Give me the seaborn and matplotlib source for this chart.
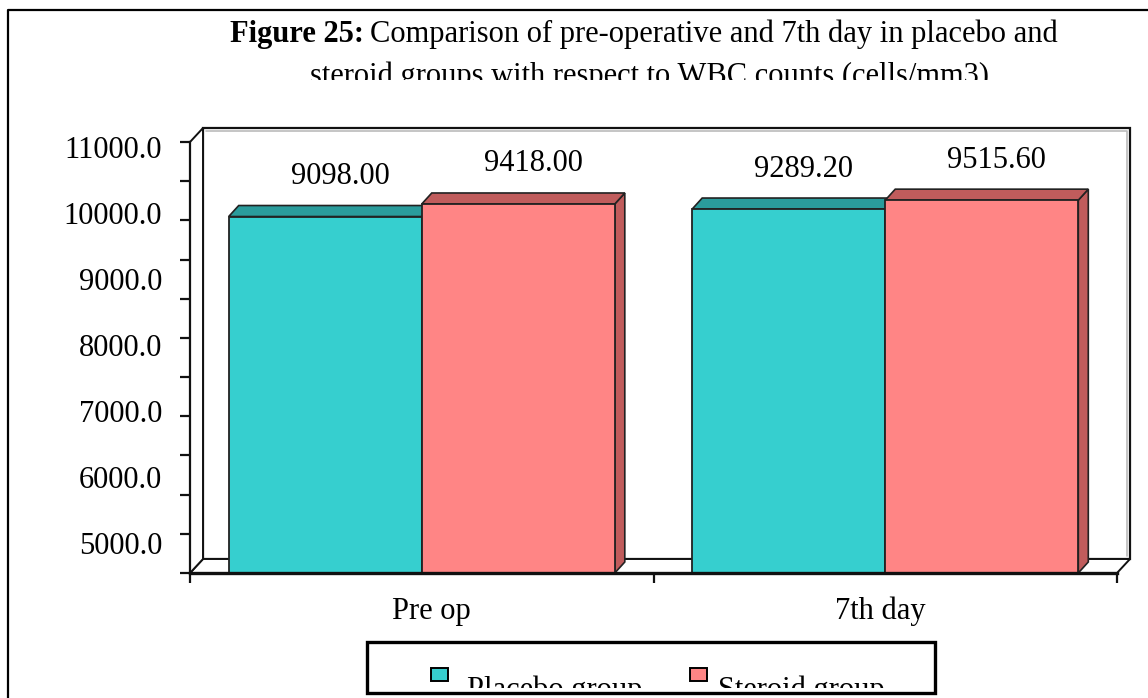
import numpy as np
import pandas as pd
import matplotlib
matplotlib.use("Agg")
import matplotlib.pyplot as plt
import seaborn as sns
from matplotlib.patches import Polygon, Rectangle
from matplotlib.lines import Line2D
from matplotlib.transforms import Bbox, IdentityTransform

# data
days = ["Pre op", "7th day"]
groups = ["Placebo group", "Steroid group"]
placebo = [9098.00, 9289.20]
steroid = [9418.00, 9515.60]
# the printed axis labels (the old Excel chart shows them out of step with the ticks)
axis_label_values = [5000, 6000, 7000, 8000, 9000, 10000, 11000]
axis_labels = ["5000.0", "6000.0", "7000.0", "8000.0", "9000.0", "10000.0", "11000.0"]

df = pd.DataFrame({
    "day": days * 2,
    "group": [groups[0]] * 2 + [groups[1]] * 2,
    "wbc": placebo + steroid,
})

teal = "#36CFCF"
red = "#FF8585"
teal_dark = "#2A9C9C"
red_dark = "#C05C5C"

sns.set_theme(style="white")
plt.rcParams["font.family"] = ["Liberation Serif", "DejaVu Serif"]
plt.rcParams["text.color"] = "black"

W, H = 1148, 698
fig = plt.figure(figsize=(W / 100, H / 100), dpi=100)


def fx(px):
    return px / W


def fy(py):
    return 1 - py / H


FS = 22
ax = fig.add_axes([fx(190), fy(573), fx(1117) - fx(190), fy(142) - fy(573)])
ax.patch.set_alpha(0)

sns.barplot(data=df, x="day", y="wbc", hue="group", palette=[teal, red],
            width=0.833, saturation=1, errorbar=None, edgecolor="#222222",
            linewidth=1.3, legend=False, ax=ax, zorder=3)

ax.set_xlim(-0.5, 1.5)
ax.set_ylim(0, 11000)
ax.set_xlabel("")
ax.set_ylabel("")

for s in ["top", "right"]:
    ax.spines[s].set_visible(False)
ax.spines["left"].set_color("#111111")
ax.spines["left"].set_linewidth(1.6)
ax.spines["bottom"].set_color("#111111")
ax.spines["bottom"].set_linewidth(2.4)
ax.spines["bottom"].set_zorder(4)

ax.set_yticks(np.arange(0, 12000, 1000))
ax.set_yticklabels([])
ax.tick_params(axis="y", which="major", direction="out", length=7, width=1.6,
               color="#111111", left=True)
ax.set_xticks([-0.5, 0.5, 1.5])
ax.set_xticklabels([])
ax.set_xticks([0, 1], minor=True)
ax.set_xticklabels(days, minor=True, fontsize=FS)
ax.tick_params(axis="x", which="major", direction="out", length=7, width=1.6,
               color="#111111", bottom=True)
ax.tick_params(axis="x", which="minor", length=0, pad=17, labelsize=FS,
               labelcolor="black")

# labels sit on their own scale, as printed in the source
lo, hi = 4545, 11076
sec = ax.secondary_yaxis("left", functions=(lambda v: lo + v * (hi - lo) / 11000,
                                            lambda u: (u - lo) * 11000 / (hi - lo)))
sec.set_yticks(axis_label_values, labels=axis_labels)
sec.tick_params(length=0, pad=20, labelsize=FS, labelcolor="black")
sec.spines["left"].set_visible(False)

# 3D box behind the bars
bb = ax.get_position()
x0, x1 = bb.x0 * W, bb.x1 * W
y0, y1 = bb.y0 * H, bb.y1 * H
dx, dy = 13, 14
ident = IdentityTransform()
floor = Polygon([(x0, y0), (x1, y0), (x1 + dx, y0 + dy), (x0 + dx, y0 + dy)],
                closed=True, facecolor="white", edgecolor="#111111", lw=1.4,
                transform=ident, zorder=-2)
wall_left = Polygon([(x0, y0), (x0, y1), (x0 + dx, y1 + dy), (x0 + dx, y0 + dy)],
                    closed=True, facecolor="white", edgecolor="#111111", lw=1.4,
                    transform=ident, zorder=-2)
wall_back = Rectangle((x0 + dx, y0 + dy), x1 - x0, y1 - y0, facecolor="white",
                      edgecolor="#111111", lw=1.6, transform=ident, zorder=-3)
for p in (wall_back, floor, wall_left):
    fig.add_artist(p)
fig.add_artist(Line2D([x0 + dx + 3, x1 + dx - 3, x1 + dx - 3],
                      [y1 + dy - 3, y1 + dy - 3, y0 + dy + 3],
                      color="#BBBBBB", lw=1.2, transform=ident, zorder=-2))

# depth faces on each bar
bd_x, bd_y = 10, 11
bars = list(ax.patches)
for i, bar in enumerate(bars):
    dark = teal_dark if i < len(days) else red_dark
    bx0, by0 = ax.transData.transform((bar.get_x(), 0))
    bx1, by1 = ax.transData.transform((bar.get_x() + bar.get_width(), bar.get_height()))
    top = Polygon([(bx0, by1), (bx1, by1), (bx1 + bd_x, by1 + bd_y), (bx0 + bd_x, by1 + bd_y)],
                  closed=True, facecolor=dark, edgecolor="#222222", lw=1.2,
                  transform=ident, zorder=2)
    side = Polygon([(bx1, by0), (bx1, by1), (bx1 + bd_x, by1 + bd_y), (bx1 + bd_x, by0 + bd_y)],
                   closed=True, facecolor=dark, edgecolor="#222222", lw=1.2,
                   transform=ident, zorder=2)
    ax.add_patch(side)
    ax.add_patch(top)
    side.set_clip_on(False)
    top.set_clip_on(False)
    ax.annotate(f"{bar.get_height():.2f}",
                xy=(bar.get_x() + bar.get_width() / 2, bar.get_height()),
                xytext=(15, 40), textcoords="offset pixels",
                ha="center", va="center", fontsize=FS, color="black")

# nudge category labels toward where the source prints them
for lab, shift in zip(ax.get_xticklabels(minor=True), [10, -5]):
    lab.set_x(lab.get_position()[0])
    lab.set_transform(lab.get_transform() + matplotlib.transforms.Affine2D().translate(shift, 0))

# title, second line cut off like in the source
t1 = fig.text(fx(230), fy(42), "Figure 25:", fontsize=FS, fontweight="bold",
              va="baseline", ha="left", color="black")
fig.canvas.draw()
e1 = t1.get_window_extent()
fig.text(e1.x1 / W + fx(6), fy(42),
         "Comparison of pre-operative and 7th day in placebo and",
         fontsize=FS, va="baseline", ha="left", color="black")
t2 = fig.text(fx(650), fy(84), "steroid groups with respect to WBC counts (cells/mm3)",
              fontsize=FS, va="baseline", ha="center", color="black")
t2.set_clip_box(Bbox([[0, H - 80], [W, H]]))
t2.set_clip_on(True)

# outer frame
fig.add_artist(Line2D([8, 8, W], [0, H - 10, H - 10], color="black", lw=1.6,
                      transform=ident))

# legend box, text clipped at the bottom like in the source
fig.add_artist(Rectangle((367, H - 693), 935 - 367, 693 - 642, facecolor="white",
                         edgecolor="black", lw=2.4, transform=ident, zorder=2))
legend_x = [(431, 467), (690, 718)]
for (mx, tx), name, col in zip(legend_x, groups, [teal, red]):
    fig.add_artist(Rectangle((mx, H - 681), 17, 13, facecolor=col, edgecolor="black",
                             lw=1.4, transform=ident, zorder=3))
    lt = fig.text(fx(tx), fy(698), name, fontsize=FS, va="baseline", ha="left",
                  zorder=3, color="black")
    lt.set_clip_box(Bbox([[0, H - 688], [W, H]]))
    lt.set_clip_on(True)

fig.savefig("out.png", dpi=100)
